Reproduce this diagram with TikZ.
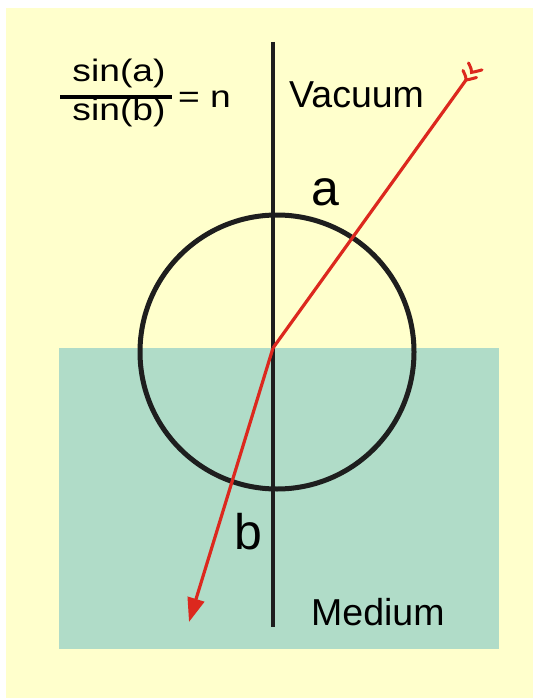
\documentclass[tikz,border=0pt]{standalone}
\usepackage{graphicx}
\usepackage{fontspec}
\setmainfont{Liberation Sans}
\usetikzlibrary{arrows.meta,calc}
\definecolor{bgyellow}{RGB}{255,255,204}
\definecolor{medteal}{RGB}{176,220,200}
\definecolor{rayred}{RGB}{220,40,30}
\definecolor{axisgray}{RGB}{30,30,30}
\newcommand{\wideframe}[1]{\scalebox{1.2}[1]{#1}}
\tikzset{
  lbl/.style={inner sep=0pt, font=\fontsize{37.5}{40}\selectfont, text=black},
  biglbl/.style={inner sep=0pt, font=\fontsize{50}{54}\selectfont, text=black},
  frm/.style={inner sep=0pt, font=\fontsize{31}{34}\selectfont, text=black},
  ray/.style={draw=rayred, line width=3.2pt},
  normalline/.style={draw=axisgray, line width=3.3pt},
  circ/.style={draw=axisgray, line width=5pt},
  fletch/.style={draw=rayred, line width=3pt, line cap=round}
}
\begin{document}
\begin{tikzpicture}[x=1pt,y=-1pt]
\useasboundingbox (0,0) rectangle (533,698);
\fill[bgyellow] (6,8) rectangle (533,698);
\fill[medteal] (59,348) rectangle (499,649);
% circle
\node[circ, circle, minimum size=274pt, inner sep=0pt] (c) at (277,352) {};
% normal line
\coordinate (ntop) at (273,42);
\coordinate (nbot) at (273,627);
\draw[normalline] (ntop) -- (nbot);
% ray
\coordinate (src) at (466,80);
\coordinate (hit) at (273,348);
\coordinate (tip) at (189,622);
\draw[ray, line join=round] (src) -- (hit);
\draw[ray, -{Triangle[length=24pt,width=17pt]}] (hit) -- (tip);
% fletching
\coordinate (v2) at ($(src)+(5.5,-7.6)$);
\draw[fletch] ($(src)+(-3,-9.5)$) .. controls ($(src)+(0,-3)$) .. (src) .. controls ($(src)+(3,-0.5)$) .. ($(src)+(10.5,-2.5)$);
\draw[fletch] ($(v2)+(-3,-9.5)$) .. controls ($(v2)+(0,-3)$) .. (v2) .. controls ($(v2)+(3,-0.5)$) .. ($(v2)+(10.5,-2.5)$);
% labels
\node[lbl, anchor=base west] (vac) at (289,107) {Vacuum};
\node[lbl, anchor=base west] (med) at (311,625) {Medium};
\node[biglbl, anchor=base] (la) at (325,205) {a};
\node[biglbl, anchor=base] (lb) at (248,549) {b};
% formula
\node[frm, anchor=base] (num) at (119,82) {\wideframe{sin(a)}};
\coordinate (barL) at (60,97);
\coordinate (barR) at (172,97);
\draw[line width=3.2pt] (barL) -- (barR);
\node[frm, anchor=base] (den) at (119,121) {\wideframe{sin(b)}};
\node[frm, anchor=base west] (eqn) at (178,108) {\wideframe{= n}};
\end{tikzpicture}
\end{document}
